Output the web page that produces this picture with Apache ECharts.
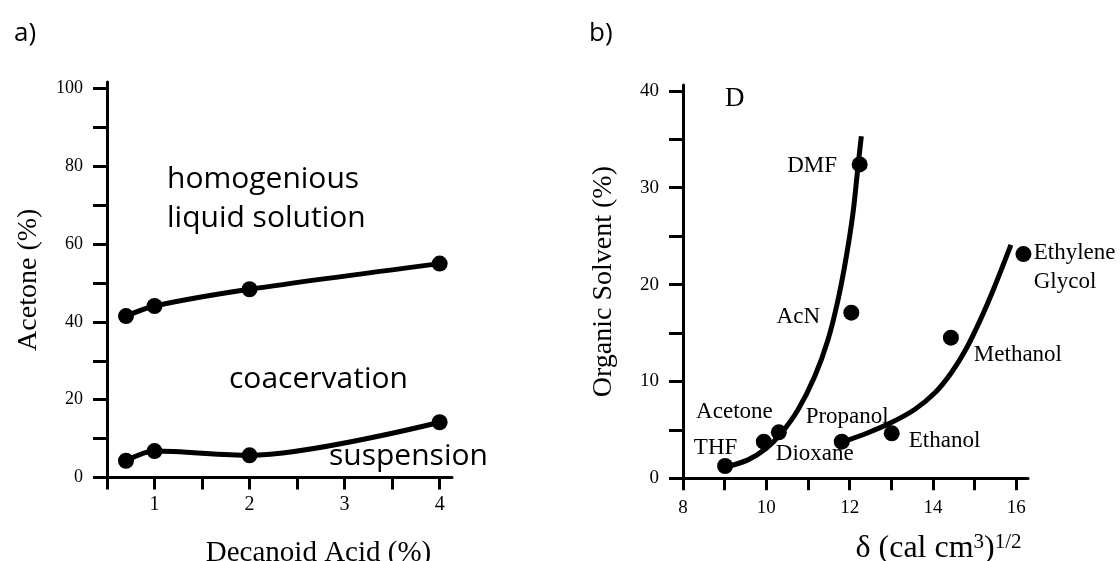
<!DOCTYPE html>
<html>
<head>
<meta charset="utf-8">
<script src="https://cdn.jsdelivr.net/npm/echarts@6/dist/echarts.min.js"></script>
<style>
html,body{margin:0;padding:0;background:#fff;}
#chart{width:1120px;height:561px;}
</style>
</head>
<body>
<div id="chart"></div>
<script>
// ---------- Panel a) data ----------
const decanoidAcid = [0.7, 1, 2, 4];
const acetoneUpper = [41.5, 44.1, 48.4, 55.0];
const acetoneLower = [4.3, 6.8, 5.7, 14.2];
const aXTicks = [0.5, 1, 1.5, 2, 2.5, 3, 3.5, 4];
const aXLabels = [1, 2, 3, 4];
const aYTicks = [0, 10, 20, 30, 40, 50, 60, 70, 80, 90, 100];
const aYLabels = [0, 20, 40, 60, 80, 100];

// ---------- Panel b) data ----------
const solvents = ['THF', 'Acetone', 'Dioxane', 'Propanol', 'Ethanol', 'Methanol', 'Ethylene\nGlycol', 'AcN', 'DMF'];
const solventDelta = [9.01, 9.94, 10.30, 11.81, 13.01, 14.43, 16.17, 12.04, 12.24];
const solventPct = [1.27, 3.78, 4.75, 3.78, 4.64, 14.52, 23.15, 17.1, 32.4];
const fitAX = [9.04, 9.56, 10.0, 10.36, 10.76, 11.16, 11.48, 11.72, 11.92, 12.08, 12.2, 12.28];
const fitAY = [1.2, 1.9, 3.1, 4.66, 7.07, 10.5, 14.3, 18.4, 22.9, 27.4, 32.2, 35.3];
const fitBX = [11.8, 12.44, 13.0, 13.56, 14.04, 14.44, 14.8, 15.13, 15.46, 15.87];
const fitBY = [3.7, 4.7, 5.75, 7.1, 8.8, 10.9, 13.4, 16.3, 19.6, 24.1];
const bXTicks = [8, 9, 10, 11, 12, 13, 14, 15, 16];
const bXLabels = [8, 10, 12, 14, 16];
const bYTicks = [0, 5, 10, 15, 20, 25, 30, 35, 40];
const bYLabels = [0, 10, 20, 30, 40];

// label placement (style, not data)
const solventLabelPlace = [
  {offset: [-9.5, -17.7]},
  {offset: [-29.4, -30]},
  {offset: [35.9, 22]},
  {offset: [5.4, -25]},
  {offset: [52.8, 7.7]},
  {offset: [67, 17.4]},
  {offset: [10.3, 13.6], align: 'left'},
  {offset: [-53, 4]},
  {offset: [-47.5, 1.7]}
];

const SERIF = '"Liberation Serif", "Times New Roman", serif';
const SANS = '"Open Sans", "Noto Sans", sans-serif';
const INK = '#000';

function axisCommon(tickVals, labelVals, labelSize, labelMargin, tickLen) {
  return {
    type: 'value',
    axisLine: {show: true, onZero: false, lineStyle: {color: INK, width: 3}},
    axisTick: {show: true, customValues: tickVals, length: tickLen, lineStyle: {color: INK, width: 3}},
    axisLabel: {customValues: labelVals, fontFamily: SERIF, fontSize: labelSize, color: INK, margin: labelMargin},
    splitLine: {show: false}
  };
}

const option = {
  animation: false,
  backgroundColor: '#fff',
  title: [
    {text: 'a)', left: 9, top: 16, textStyle: {fontFamily: SANS, fontSize: 26, fontWeight: 'normal', color: INK}},
    {text: 'b)', left: 584, top: 16, textStyle: {fontFamily: SANS, fontSize: 26, fontWeight: 'normal', color: INK}},
    {text: 'D', left: 720, top: 80, textStyle: {fontFamily: SERIF, fontSize: 27, fontWeight: 'normal', color: INK}}
  ],
  grid: [
    {left: 107, top: 82, width: 345, height: 395.5, outerBoundsMode: 'none', containLabel: false},
    {left: 683, top: 85, width: 345, height: 393.3, outerBoundsMode: 'none', containLabel: false}
  ],
  xAxis: [
    Object.assign(axisCommon(aXTicks, aXLabels, 20, 17, 12), {
      gridIndex: 0, min: 0.5, max: 4.13,
      name: 'Decanoid Acid (%)', nameLocation: 'middle', nameGap: 61,
      nameTextStyle: {fontFamily: SERIF, fontSize: 29, color: INK, padding: [0, 0, 0, 78]}
    }),
    Object.assign(axisCommon(bXTicks, bXLabels, 19, 20, 12), {
      gridIndex: 1, min: 8, max: 16.28,
      name: 'δ (cal cm{s|3}){s|1/2}', nameLocation: 'middle', nameGap: 54,
      nameTextStyle: {fontFamily: SERIF, fontSize: 32, color: INK, padding: [0, 0, 0, 166],
        rich: {s: {fontFamily: SERIF, fontSize: 21, color: INK, verticalAlign: 'top', padding: [0, 0, 11, 0]}}}
    })
  ],
  yAxis: [
    Object.assign(axisCommon(aYTicks, aYLabels, 18, 24, 14), {
      gridIndex: 0, min: 0, max: 101.7,
      name: 'Acetone (%)', nameLocation: 'middle', nameGap: 64,
      nameTextStyle: {fontFamily: SERIF, fontSize: 28, color: INK}
    }),
    Object.assign(axisCommon(bYTicks, bYLabels, 19, 24, 14), {
      gridIndex: 1, min: 0, max: 40.6,
      name: 'Organic Solvent (%)', nameLocation: 'middle', nameGap: 65,
      nameTextStyle: {fontFamily: SERIF, fontSize: 28, color: INK}
    })
  ],
  series: [
    {
      type: 'line', xAxisIndex: 0, yAxisIndex: 0, smooth: 0.3,
      data: decanoidAcid.map((x, i) => [x, acetoneUpper[i]]),
      symbol: 'circle', symbolSize: 16, showAllSymbol: true,
      lineStyle: {color: INK, width: 5}, itemStyle: {color: INK, opacity: 1}
    },
    {
      type: 'line', xAxisIndex: 0, yAxisIndex: 0, smooth: 0.3,
      data: decanoidAcid.map((x, i) => [x, acetoneLower[i]]),
      symbol: 'circle', symbolSize: 16, showAllSymbol: true,
      lineStyle: {color: INK, width: 5}, itemStyle: {color: INK, opacity: 1}
    },
    {
      type: 'line', xAxisIndex: 1, yAxisIndex: 1, smooth: 0.35, showSymbol: false,
      data: fitAX.map((x, i) => [x, fitAY[i]]),
      lineStyle: {color: INK, width: 5}
    },
    {
      type: 'line', xAxisIndex: 1, yAxisIndex: 1, smooth: 0.35, showSymbol: false,
      data: fitBX.map((x, i) => [x, fitBY[i]]),
      lineStyle: {color: INK, width: 5}
    },
    {
      type: 'scatter', xAxisIndex: 1, yAxisIndex: 1, symbolSize: 16,
      itemStyle: {color: INK, opacity: 1},
      data: solvents.map((n, i) => ({
        name: n, value: [solventDelta[i], solventPct[i]],
        label: {
          show: true, position: 'inside', formatter: '{b}',
          offset: solventLabelPlace[i].offset,
          align: solventLabelPlace[i].align || 'center',
          verticalAlign: 'middle',
          fontFamily: SERIF, fontSize: 23, color: INK, lineHeight: 29
        }
      }))
    }
  ],
  graphic: [
    {type: 'text', x: 167, y: 179, style: {text: 'homogenious', font: '30px ' + SANS, fill: INK, verticalAlign: 'middle'}},
    {type: 'text', x: 167, y: 218, style: {text: 'liquid solution', font: '30px ' + SANS, fill: INK, verticalAlign: 'middle'}},
    {type: 'text', x: 229, y: 379, style: {text: 'coacervation', font: '30px ' + SANS, fill: INK, verticalAlign: 'middle'}},
    {type: 'text', x: 329, y: 456, style: {text: 'suspension', font: '30px ' + SANS, fill: INK, verticalAlign: 'middle'}}
  ]
};

const chart = echarts.init(document.getElementById('chart'), null, {renderer: 'canvas'});
chart.setOption(option);
</script>
</body>
</html>
